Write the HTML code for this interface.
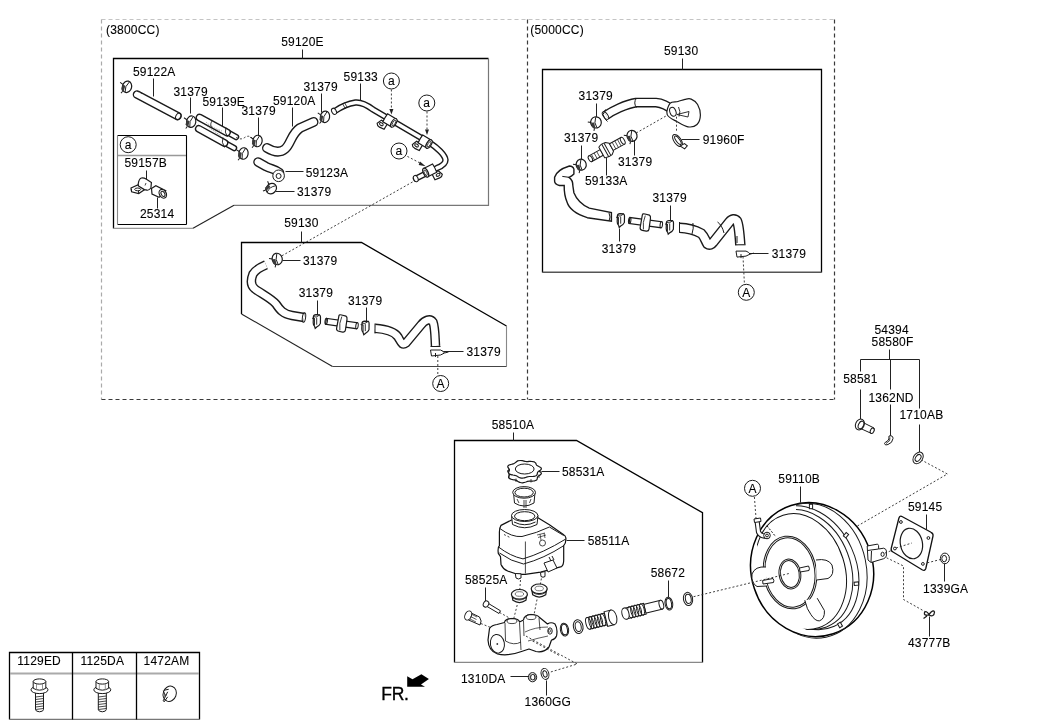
<!DOCTYPE html>
<html><head><meta charset="utf-8">
<style>
html,body{margin:0;padding:0;background:#fff;width:1063px;height:727px;overflow:hidden}
svg{display:block}
text{font-family:"Liberation Sans",sans-serif;font-size:12px;fill:#000;letter-spacing:0.2px;stroke:#000;stroke-width:0.1px}
.ln{stroke:#000;stroke-width:1.3;fill:none}
.th{stroke:#1a1a1a;stroke-width:1;fill:none}
.ld{stroke:#222;stroke-width:1;fill:none}
.dsh{stroke:#555;stroke-width:1;fill:none;stroke-dasharray:4 3}
.dshl{stroke:#aaa;stroke-width:1;fill:none;stroke-dasharray:4 3}
.dt{stroke:#2a2a2a;stroke-width:0.9;fill:none;stroke-dasharray:2 2}
.o{stroke:#1a1a1a;stroke-width:1;fill:#fff}
.tb{stroke:#1a1a1a;fill:none;stroke-linecap:round;stroke-linejoin:round}
.tw{stroke:#fff;fill:none;stroke-linecap:round;stroke-linejoin:round}
</style></head><body>
<svg style="will-change:transform" width="1063" height="727" viewBox="0 0 1063 727">
<!-- dashed outer boxes -->
<g id="dashed">
<path style="stroke:#c4c4c4;stroke-width:1.2;fill:none;stroke-dasharray:4 3" d="M101.5 19.5 H834.5"/>
<path style="stroke:#aaa;stroke-width:1.2;fill:none;stroke-dasharray:4 3" d="M101.5 19.5 V399.5"/>
<path style="stroke:#3a3a3a;stroke-width:1.2;fill:none;stroke-dasharray:4 3" d="M101.5 399.5 H834.5"/>
<path style="stroke:#3a3a3a;stroke-width:1.2;fill:none;stroke-dasharray:4 3" d="M834.5 19.5 V399.5"/>
<path style="stroke:#3a3a3a;stroke-width:1.2;fill:none;stroke-dasharray:4 3" d="M527.5 19.5 V399.5"/>
</g>
<!-- solid boxes -->
<g id="boxes">
<path class="ln" d="M113.5 228.5 V58.5 H488.5"/>
<path class="ln" style="stroke:#777;stroke-width:1.2" d="M488.5 58.5 V205.3 H234"/>
<path class="ln" style="stroke:#222;stroke-width:1.1" d="M234 205.3 L193 228.3"/>
<path class="ln" style="stroke:#999;stroke-width:1.2" d="M193 228.3 H113.5"/>
<path class="ln" style="stroke-width:1.1" d="M186.5 224.5 H117.5 M186.5 135.5 H117.5 M186.5 135.5 V224.5"/>
<path class="ln" style="stroke:#888;stroke-width:1.1" d="M117.5 135.5 V224.5"/>
<path class="ln" d="M118 155.5 H186" style="stroke:#999;stroke-width:1.6"/>
<path class="ln" d="M241.5 314 V242.5 H361.5 L506.5 326"/>
<path class="ln" style="stroke:#888;stroke-width:1.1" d="M506.5 326 V366.5"/>
<path class="ln" style="stroke:#444;stroke-width:1.2" d="M506.5 366.5 H332.5"/>
<path class="ln" style="stroke:#222;stroke-width:1.1" d="M332.5 366.5 L241.5 314"/>
<path class="ln" d="M542.5 272.5 V69.5 H821.5 V272.5"/>
<path class="ln" style="stroke:#555;stroke-width:1.4" d="M821.5 272.3 H542.5"/>
<path class="ln" d="M454.5 662.5 V440.5 H576.5 L702.5 512.7 V662.5"/>
<path class="ln" style="stroke:#888;stroke-width:1.2" d="M702.5 662.3 H454.5"/>
<path class="ln" d="M9.5 719.5 V652.5 H199.5 V719.5"/>
<path class="ln" style="stroke:#777;stroke-width:1.2" d="M199.5 719.3 H9.5"/>
<path class="ln" d="M10 673.5 H199" style="stroke:#aaa;stroke-width:2"/>
<path class="ln" d="M72.5 652.5 V719.5 M136.5 652.5 V719.5"/>
</g>
<!-- leaders -->
<g id="leaders" class="ld">
<path d="M302.5 49.5 V58.5"/>
<path d="M153.5 78.5 V96.5"/>
<path d="M190.5 97.5 V113.5"/>
<path d="M222.5 107.5 V127.5"/>
<path d="M258.5 117.5 V136.5"/>
<path d="M292.5 107.5 V126.5"/>
<path d="M321.5 93.5 V112.5"/>
<path d="M360.5 83.5 V100.5"/>
<path d="M146.5 170.5 V179.5"/>
<path d="M157.5 197.5 V208.5"/>
<path d="M285.5 171.5 H303.5"/>
<path d="M275.5 191.5 H294.5"/>
<path d="M301.5 231.5 V242.5"/>
<path d="M282.5 260.5 H300.5"/>
<path d="M317.5 300.5 V316.5"/>
<path d="M366.5 307.5 V322.5"/>
<path d="M442.5 351.5 H463.5"/>
<path d="M682.5 58.5 V69.5"/>
<path d="M596.5 103.5 V118.5"/>
<path d="M581.5 145.5 V160.5"/>
<path d="M634.5 138.5 V155.5"/>
<path d="M681.5 139.5 H699.5"/>
<path d="M606.5 157.5 V175.5"/>
<path d="M670.5 205.5 V220.5"/>
<path d="M619.5 228.5 V241.5"/>
<path d="M748.5 253.5 H768.5"/>
<path d="M889.5 349.5 V359.5 M860.5 359.5 H919.5 M860.5 359.5 V371.5 M860.5 389.5 V420.5 M890.5 359.5 V389.5 M890.5 404.5 V437.5 M919.5 359.5 V408.5 M919.5 424.5 V452.5"/>
<path d="M513.5 432.5 V440.5"/>
<path d="M541.5 471.5 H559.5"/>
<path d="M566.5 540.5 H584.5"/>
<path d="M485.5 587.5 V602.5"/>
<path d="M668.5 580.5 V597.5"/>
<path d="M800.5 486.5 V502.5"/>
<path d="M926.5 514.5 V529.5"/>
<path d="M944.5 563.5 V581.5"/>
<path d="M929.5 616.5 V636.5"/>
<path d="M510.5 676.5 H529.5"/>
<path d="M546.5 680.5 V695.5"/>
</g>
<!-- labels -->
<g id="labels">
<text x="106" y="33.8">(3800CC)</text>
<text x="281.2" y="45.5">59120E</text>
<text x="133" y="75.8">59122A</text>
<text x="173.4" y="95.7">31379</text>
<text x="202.5" y="105.5">59139E</text>
<text x="241.5" y="115">31379</text>
<text x="273" y="104.6">59120A</text>
<text x="303.5" y="90.5">31379</text>
<text x="343.6" y="80.5">59133</text>
<text x="124.5" y="167.3">59157B</text>
<text x="140" y="218.4">25314</text>
<text x="305.7" y="177.2">59123A</text>
<text x="297" y="195.6">31379</text>
<text x="284.2" y="227">59130</text>
<text x="303" y="265">31379</text>
<text x="298.7" y="297.3">31379</text>
<text x="348" y="304.5">31379</text>
<text x="466.4" y="356.2">31379</text>
<text x="530.3" y="33.6">(5000CC)</text>
<text x="664" y="55.2">59130</text>
<text x="578.6" y="100.3">31379</text>
<text x="564" y="142">31379</text>
<text x="618" y="166.2">31379</text>
<text x="702.7" y="144">91960F</text>
<text x="585" y="184.8">59133A</text>
<text x="652.5" y="201.7">31379</text>
<text x="601.7" y="253.4">31379</text>
<text x="771.7" y="257.5">31379</text>
<text x="874.5" y="333.8">54394</text>
<text x="871.6" y="345.5">58580F</text>
<text x="843.2" y="382.7">58581</text>
<text x="868.4" y="401.5">1362ND</text>
<text x="899.5" y="419.1">1710AB</text>
<text x="491.7" y="428.8">58510A</text>
<text x="561.9" y="475.9">58531A</text>
<text x="587.7" y="544.6">58511A</text>
<text x="465" y="583.7">58525A</text>
<text x="650.7" y="576.6">58672</text>
<text x="778.3" y="482.6">59110B</text>
<text x="907.9" y="510.6">59145</text>
<text x="923.1" y="592.8">1339GA</text>
<text x="907.9" y="647">43777B</text>
<text x="461" y="682.9">1310DA</text>
<text x="524.6" y="705.5">1360GG</text>
<text x="17.3" y="664.8">1129ED</text>
<text x="80.5" y="664.8">1125DA</text>
<text x="143.6" y="664.8">1472AM</text>
<text x="381.3" y="699.8" style="font-size:17.5px;letter-spacing:-0.3px;stroke-width:0.35px">FR.</text>
</g>
<!-- FR arrow -->
<path d="M407.2 676.2 L412.5 679.2 L421.4 674.2 L428.9 679 L421 684.4 L425 686.7 L407.2 686.7 Z" fill="#000"/>
<circle class="th" cx="128.2" cy="144.7" r="8"/><text x="128.2" y="148.79999999999998" text-anchor="middle">a</text>
<circle class="th" cx="391.4" cy="81" r="8"/><text x="391.4" y="85.1" text-anchor="middle">a</text>
<circle class="th" cx="426.8" cy="103" r="8"/><text x="426.8" y="107.1" text-anchor="middle">a</text>
<circle class="th" cx="399" cy="151" r="8"/><text x="399" y="155.1" text-anchor="middle">a</text>
<circle class="th" cx="440.7" cy="383.5" r="8"/><text x="440.7" y="387.8" text-anchor="middle">A</text>
<circle class="th" cx="746.3" cy="292.3" r="8"/><text x="746.3" y="296.6" text-anchor="middle">A</text>
<circle class="th" cx="752.5" cy="488.3" r="8"/><text x="752.5" y="492.6" text-anchor="middle">A</text>
<path class="tb" style="stroke-width:8.6;stroke-linecap:round" d="M137 94.5 L177.5 116"/>
<path class="tw" style="stroke-width:5.8;stroke-linecap:round" d="M137 94.5 L177.5 116"/>
<ellipse class="th" cx="178.3" cy="116.4" rx="2.4" ry="3.6" transform="rotate(28 178.3 116.4)"/>
<path class="dt" d="M137 91 L142 93.5"/>
<g transform="translate(127,86.8) rotate(15) scale(1,1)"><ellipse class="o" style="stroke-width:1.2" cx="0" cy="0" rx="4.6" ry="5.8"/><path class="th" style="stroke-width:0.9" d="M1 -5.2 Q-2.5 0 -0.5 5.5"/><path d="M-4.8 -1 L-1.8 -0.5 L-2 5 L-3.5 5.6 L-5 3.5 Z" fill="#3a3a3a"/><path class="th" d="M-7.8 -2.6 L-4.6 -1.2 M-3 5.4 L-4.2 7.6"/></g>
<g transform="translate(191.2,121.7) rotate(10) scale(1,1)"><ellipse class="o" style="stroke-width:1.2" cx="0" cy="0" rx="4.6" ry="5.8"/><path class="th" style="stroke-width:0.9" d="M1 -5.2 Q-2.5 0 -0.5 5.5"/><path d="M-4.8 -1 L-1.8 -0.5 L-2 5 L-3.5 5.6 L-5 3.5 Z" fill="#3a3a3a"/><path class="th" d="M-7.8 -2.6 L-4.6 -1.2 M-3 5.4 L-4.2 7.6"/></g>
<path class="tb" style="stroke-width:6.5;stroke-linecap:round" d="M227 132 L236 137"/>
<path class="tw" style="stroke-width:3.7;stroke-linecap:round" d="M227 132 L236 137"/>
<path class="tb" style="stroke-width:6.5;stroke-linecap:round" d="M224 142.5 L234 148"/>
<path class="tw" style="stroke-width:3.7;stroke-linecap:round" d="M224 142.5 L234 148"/>
<path class="tb" style="stroke-width:7.8;stroke-linecap:round" d="M199.5 117.5 L227 132.5"/>
<path class="tw" style="stroke-width:5.0;stroke-linecap:round" d="M199.5 117.5 L227 132.5"/>
<path class="tb" style="stroke-width:7.8;stroke-linecap:round" d="M198.8 128.8 L224.5 143"/>
<path class="tw" style="stroke-width:5.0;stroke-linecap:round" d="M198.8 128.8 L224.5 143"/>
<path class="th" d="M226 127.5 Q224 132 227.5 137 M223 137.5 Q221 142 224.5 147.5" style="stroke-width:0.9"/>
<path class="th" d="M206 122 Q212 128 222 131 M207 126 Q214 131 221 136" style="stroke:#777;stroke-width:0.7;stroke-dasharray:1.5 1"/>
<path class="th" d="M212 121 Q209 125 213 129" style="stroke-width:0.8"/>
<path class="dt" d="M236 137.5 Q241 140 244 138 Q249 134 253 139"/>
<g transform="translate(257.5,141) rotate(10) scale(1,1)"><ellipse class="o" style="stroke-width:1.2" cx="0" cy="0" rx="4.6" ry="5.8"/><path class="th" style="stroke-width:0.9" d="M1 -5.2 Q-2.5 0 -0.5 5.5"/><path d="M-4.8 -1 L-1.8 -0.5 L-2 5 L-3.5 5.6 L-5 3.5 Z" fill="#3a3a3a"/><path class="th" d="M-7.8 -2.6 L-4.6 -1.2 M-3 5.4 L-4.2 7.6"/></g>
<g transform="translate(243.5,153.5) rotate(10) scale(1,1)"><ellipse class="o" style="stroke-width:1.2" cx="0" cy="0" rx="4.6" ry="5.8"/><path class="th" style="stroke-width:0.9" d="M1 -5.2 Q-2.5 0 -0.5 5.5"/><path d="M-4.8 -1 L-1.8 -0.5 L-2 5 L-3.5 5.6 L-5 3.5 Z" fill="#3a3a3a"/><path class="th" d="M-7.8 -2.6 L-4.6 -1.2 M-3 5.4 L-4.2 7.6"/></g>
<path class="tb" style="stroke-width:10;stroke-linecap:round" d="M267 148 C272 151 279 154 285 149 C291 144 291 134 300 128 L313.5 122"/>
<path class="tw" style="stroke-width:7.2;stroke-linecap:round" d="M267 148 C272 151 279 154 285 149 C291 144 291 134 300 128 L313.5 122"/>
<path class="tb" style="stroke-width:9.5;stroke-linecap:round" d="M258 162 L266 166.5 C271 169 276 169.5 279.5 172.5"/>
<path class="tw" style="stroke-width:6.7;stroke-linecap:round" d="M258 162 L266 166.5 C271 169 276 169.5 279.5 172.5"/>
<circle class="o" cx="278.6" cy="175.8" r="5.8"/><circle class="th" cx="278.6" cy="176" r="2.5"/>
<g transform="translate(271.3,188.6) rotate(45) scale(1,1)"><ellipse class="o" style="stroke-width:1.2" cx="0" cy="0" rx="4.8" ry="5.6"/><path class="th" style="stroke-width:0.9" d="M1 -5.0 Q-2.5 0 -0.5 5.3"/><path d="M-4.8 -1 L-1.8 -0.5 L-2 5 L-3.5 5.6 L-5 3.5 Z" fill="#3a3a3a"/><path class="th" d="M-7.8 -2.6 L-4.6 -1.2 M-3 5.4 L-4.2 7.6"/></g>
<g transform="translate(325,116.8) rotate(10) scale(1,1)"><ellipse class="o" style="stroke-width:1.2" cx="0" cy="0" rx="4.6" ry="5.8"/><path class="th" style="stroke-width:0.9" d="M1 -5.2 Q-2.5 0 -0.5 5.5"/><path d="M-4.8 -1 L-1.8 -0.5 L-2 5 L-3.5 5.6 L-5 3.5 Z" fill="#3a3a3a"/><path class="th" d="M-7.8 -2.6 L-4.6 -1.2 M-3 5.4 L-4.2 7.6"/></g>
<path class="tb" style="stroke-width:6.4;stroke-linecap:round" d="M335 111 C340 107.5 347 103.8 355.5 102.5 C361 102 367 105 373 109.5 L430 143 C437 147.5 445 155 445.5 160 C445.5 164 441 166.5 437 168 L416 178.5"/>
<path class="tw" style="stroke-width:3.6000000000000005;stroke-linecap:round" d="M335 111 C340 107.5 347 103.8 355.5 102.5 C361 102 367 105 373 109.5 L430 143 C437 147.5 445 155 445.5 160 C445.5 164 441 166.5 437 168 L416 178.5"/>
<ellipse class="o" cx="334" cy="111.3" rx="2.2" ry="3.3" transform="rotate(-30 334 111.3)"/>
<path class="th" d="M342.5 103.5 L345.5 109 M344.5 102.5 L347.5 108" style="stroke-width:0.8"/>
<ellipse class="o" cx="415.8" cy="178.6" rx="2.2" ry="3.3" transform="rotate(-25 415.8 178.6)"/>
<g transform="translate(389.5,120.3) rotate(31) scale(1,1)"><path class="o" style="stroke-width:1.2" d="M-7 4 L-9 9 Q-8 11 -5 11 L0 10.5 L0 4 Z"/><ellipse class="th" cx="-5" cy="7.5" rx="2" ry="1.3"/><path class="o" style="stroke-width:1.2" d="M-5 -4.6 Q-5.5 -1 -5 4.6 L5 4.6 L5 -4.6 Z"/><ellipse class="o" style="stroke-width:1.2" cx="5" cy="0" rx="2.3" ry="4.8"/><ellipse class="th" cx="5.2" cy="0" rx="1.2" ry="3" style="stroke-width:0.8"/></g>
<g transform="translate(424.7,141.5) rotate(31) scale(1,1)"><path class="o" style="stroke-width:1.2" d="M-7 4 L-9 9 Q-8 11 -5 11 L0 10.5 L0 4 Z"/><ellipse class="th" cx="-5" cy="7.5" rx="2" ry="1.3"/><path class="o" style="stroke-width:1.2" d="M-5 -4.6 Q-5.5 -1 -5 4.6 L5 4.6 L5 -4.6 Z"/><ellipse class="o" style="stroke-width:1.2" cx="5" cy="0" rx="2.3" ry="4.8"/><ellipse class="th" cx="5.2" cy="0" rx="1.2" ry="3" style="stroke-width:0.8"/></g>
<g transform="translate(430.2,170.4) rotate(-27) scale(-1,1)"><path class="o" style="stroke-width:1.2" d="M-7 4 L-9 9 Q-8 11 -5 11 L0 10.5 L0 4 Z"/><ellipse class="th" cx="-5" cy="7.5" rx="2" ry="1.3"/><path class="o" style="stroke-width:1.2" d="M-5 -4.6 Q-5.5 -1 -5 4.6 L5 4.6 L5 -4.6 Z"/><ellipse class="o" style="stroke-width:1.2" cx="5" cy="0" rx="2.3" ry="4.8"/><ellipse class="th" cx="5.2" cy="0" rx="1.2" ry="3" style="stroke-width:0.8"/></g>
<path class="dt" d="M391.4 89.5 V111"/><path d="M389.4 109 L391.4 114.5 L393.4 109 Z" fill="#222"/>
<path class="dt" d="M427 111.5 V131.5"/><path d="M425 129.5 L427 135 L429 129.5 Z" fill="#222"/>
<path class="dt" d="M407.4 156.4 L421.5 163.8"/><path d="M420 161.5 L425.6 166.3 L418.7 165 Z" fill="#222"/>
<g><path class="o" style="stroke-width:1.2" d="M131 188 L137.7 185 L144.8 189.6 L138.7 193.5 L131.6 191.8 Z"/><path class="th" d="M131.6 191.8 L131.3 189 M138.7 193.5 L138.5 191"/><ellipse class="th" cx="137.7" cy="189.4" rx="3" ry="1.4"/><path class="o" style="stroke-width:1.2" d="M138.2 184 Q139 178.5 141.5 178 Q144 177.8 146.5 179.2 L151.4 182.5 L150.9 188 Q149 190.5 147 190.2 L144.3 189.6 L138.5 186 Z"/><path class="th" d="M146 183 L145 185.5" style="stroke-width:0.8"/><path class="o" style="stroke-width:1.2" d="M151.5 188.5 L155.8 185.8 L165.7 190.7 L159.1 197.3 L152 194 Z"/><ellipse class="o" style="stroke-width:1.2" cx="162.8" cy="193.8" rx="3.4" ry="4.6" transform="rotate(-30 162.8 193.8)"/><ellipse class="th" cx="163" cy="193.8" rx="1.7" ry="2.8" transform="rotate(-30 163 193.8)"/></g>
<path class="dt" d="M412.5 182 L280.8 256.4"/>
<g transform="translate(277.2,259) rotate(-15) scale(1,1)"><ellipse class="o" style="stroke-width:1.2" cx="0" cy="0" rx="5" ry="5.8"/><path class="th" style="stroke-width:0.9" d="M1 -5.2 Q-2.5 0 -0.5 5.5"/><path d="M-4.8 -1 L-1.8 -0.5 L-2 5 L-3.5 5.6 L-5 3.5 Z" fill="#3a3a3a"/><path class="th" d="M-7.8 -2.6 L-4.6 -1.2 M-3 5.4 L-4.2 7.6"/></g>
<path class="tb" style="stroke-width:9.5;stroke-linecap:butt" d="M266 264.8 C262 266.5 256 269 253 274 C251 279 250 285 255 289 C262 294 272 299 276 304 C280 310 283 314 292 315.5 L304 317.5"/>
<path class="tw" style="stroke-width:6.7;stroke-linecap:butt" d="M266 264.8 C262 266.5 256 269 253 274 C251 279 250 285 255 289 C262 294 272 299 276 304 C280 310 283 314 292 315.5 L304 317.5"/>
<ellipse class="th" cx="304" cy="317.5" rx="1.6" ry="4.8" transform="rotate(8 304 317.5)"/>
<g transform="translate(317,321.2) rotate(0)"><path class="o" style="stroke-width:1.2" d="M-3.6 -4.5 Q-3.4 -6.4 -1 -6.5 L2.6 -6.3 Q3.6 -5.6 3.5 -4 L3.4 2.2 Q2.6 4.2 0 5.6 L-1.8 7.2 L-2.4 5.2 Q-3.8 4 -3.8 1.5 Z"/><path class="th" style="stroke-width:0.9" d="M-2.5 -3 V4.5 M-0.3 -3.5 V3.5 M-3.6 -4.5 Q-1 -3 2.6 -6.2 M-5 -3 L-2.5 -2.6"/></g>
<g transform="translate(326,321.3) rotate(8.259437979878806)"><path class="o" style="stroke-width:1.2" d="M0 -3 L31.32491021535417 -3 L31.32491021535417 3 L0 3 Z"/><ellipse class="th" cx="0.2" cy="0" rx="1.2" ry="3"/><ellipse class="o" cx="31.32491021535417" cy="0" rx="1.2" ry="3"/><path class="o" style="stroke-width:1.2" d="M12 -7.5 Q12 -8.8 14.5 -8.5 L19 -8 Q20.5 -7.5 20.5 -5 L20.5 6 Q20.5 8.3 18 8.3 L14 8 Q11.5 7.8 11.5 5.5 Z"/><path class="th" style="stroke-width:0.8" d="M15 -7 Q13 0 15 7"/></g>
<g transform="translate(365.6,327.6) rotate(0)"><path class="o" style="stroke-width:1.2" d="M-3.6 -4.5 Q-3.4 -6.4 -1 -6.5 L2.6 -6.3 Q3.6 -5.6 3.5 -4 L3.4 2.2 Q2.6 4.2 0 5.6 L-1.8 7.2 L-2.4 5.2 Q-3.8 4 -3.8 1.5 Z"/><path class="th" style="stroke-width:0.9" d="M-2.5 -3 V4.5 M-0.3 -3.5 V3.5 M-3.6 -4.5 Q-1 -3 2.6 -6.2 M-5 -3 L-2.5 -2.6"/></g>
<path class="tb" style="stroke-width:9.5;stroke-linecap:butt" d="M375 328.3 C385 329 394 331 398 337 C401 342 402 346 406 343 L421 325 C425 320 430 318 433 322 C435 327 435 337 435.5 346"/>
<path class="tw" style="stroke-width:6.7;stroke-linecap:butt" d="M375 328.3 C385 329 394 331 398 337 C401 342 402 346 406 343 L421 325 C425 320 430 318 433 322 C435 327 435 337 435.5 346"/>
<path class="th" d="M375 323.5 V333.5 M430.5 346.5 H440.5"/>
<g transform="translate(436.5,353)"><path class="o" d="M-6 -3 L4 -3 Q7 -2 8 0 L4 2 L-5 3 Z"/><path class="th" d="M-1 0 L-1 4 M8 0 L12 -1"/></g>
<path class="dt" d="M437.8 356 V375.5"/>
<path class="tb" style="stroke-width:9.8;stroke-linecap:butt" d="M606 115.3 C612 111 626 104 636 102.6 L656 102.6 C662 103 668 106 674 111"/>
<path class="tw" style="stroke-width:7.000000000000001;stroke-linecap:butt" d="M606 115.3 C612 111 626 104 636 102.6 L656 102.6 C662 103 668 106 674 111"/>
<path class="th" d="M605.5 109.5 L603 114.5 Q604.5 119.5 607.5 121.5 M636.5 98 Q633 103 636.5 107.5"/>
<ellipse class="th" cx="605.5" cy="115.5" rx="2.2" ry="4.5" transform="rotate(-35 605.5 115.5)"/>
<path class="o" style="stroke-width:1.2" d="M670.0 103.3 C671.8 101.1 675.5 102.2 678.0 101.5 C680.5 100.8 682.8 99.7 685.0 99.3 C687.2 98.9 689.1 98.2 691.2 99.1 C693.3 100.0 696.1 101.8 697.6 104.5 C699.1 107.2 700.5 111.7 700.4 115.0 C700.3 118.3 699.1 122.5 697.0 124.5 C694.9 126.5 691.3 127.3 688.0 126.8 C684.7 126.3 680.6 123.7 677.1 121.7 C673.6 119.7 668.4 117.7 667.2 114.6 C666.0 111.5 668.2 105.5 670.0 103.3 Z"/>
<ellipse class="o" cx="672.9" cy="111.8" rx="3" ry="4.6" transform="rotate(-20 672.9 111.8)"/>
<path class="th" d="M678.5 107 Q681 111.5 679 116.5 M677 114.5 L689 111.5 L688 117 Z" style="stroke-width:0.9"/>
<g transform="translate(596,122.4) rotate(-15) scale(1,1)"><ellipse class="o" style="stroke-width:1.2" cx="0" cy="0" rx="5.3" ry="5.6"/><path class="th" style="stroke-width:0.9" d="M1 -5.0 Q-2.5 0 -0.5 5.3"/><path d="M-4.8 -1 L-1.8 -0.5 L-2 5 L-3.5 5.6 L-5 3.5 Z" fill="#3a3a3a"/><path class="th" d="M-7.8 -2.6 L-4.6 -1.2 M-3 5.4 L-4.2 7.6"/></g>
<g transform="translate(607,149.5) rotate(-29)"><path class="o" d="M-19 -3.2 L-6 -3.2 L-6 3.2 L-19 3.2 Z"/><ellipse class="o" cx="-19" cy="0" rx="1.8" ry="3.2"/><path class="th" d="M-16 -3.2 V3.2 M-13 -3.2 V3.2 M-10 -3.2 V3.2" style="stroke-width:0.7"/><path class="o" d="M-6 -6 Q-3 -8 2 -7 L5 -4.5 L5 4.5 L2 7 Q-3 8 -6 6 Z"/><path class="th" d="M-2 -7.2 V7.2 M0.5 -7 V7"/><path class="o" d="M5 -3.8 L18 -3.8 L18 3.8 L5 3.8 Z"/><ellipse class="o" cx="18" cy="0" rx="1.8" ry="3.8"/><path class="th" d="M8 -3.8 V3.8 M11 -3.8 V3.8 M14 -3.8 V3.8" style="stroke-width:0.7"/></g>
<g transform="translate(581.2,164.7) rotate(-15) scale(1,1)"><ellipse class="o" style="stroke-width:1.2" cx="0" cy="0" rx="5" ry="5.5"/><path class="th" style="stroke-width:0.9" d="M1 -4.9 Q-2.5 0 -0.5 5.2"/><path d="M-4.8 -1 L-1.8 -0.5 L-2 5 L-3.5 5.6 L-5 3.5 Z" fill="#3a3a3a"/><path class="th" d="M-7.8 -2.6 L-4.6 -1.2 M-3 5.4 L-4.2 7.6"/></g>
<g transform="translate(632,135.8) rotate(-15) scale(1,1)"><ellipse class="o" style="stroke-width:1.2" cx="0" cy="0" rx="5" ry="5.5"/><path class="th" style="stroke-width:0.9" d="M1 -4.9 Q-2.5 0 -0.5 5.2"/><path d="M-4.8 -1 L-1.8 -0.5 L-2 5 L-3.5 5.6 L-5 3.5 Z" fill="#3a3a3a"/><path class="th" d="M-7.8 -2.6 L-4.6 -1.2 M-3 5.4 L-4.2 7.6"/></g>
<g transform="translate(677.5,140.5) rotate(-35)"><ellipse class="o" cx="0" cy="0" rx="3.5" ry="7"/><ellipse class="th" cx="0.5" cy="0" rx="1.8" ry="5"/><path class="o" d="M-1 6 L4 6.5 L5 10 L1 11 Z"/></g>
<path class="dt" d="M636.2 133 L667.2 115.3"/><path class="dt" d="M676.5 116.7 V132.3"/>
<path class="o" style="stroke-width:1.4" d="M554.6 177.3 C556 172 563 168 569.4 166 Q573 166 573.9 169.1 L573.9 174 Q572 176 569 177.3 Q573 180 572.9 186 L573.9 192.7 Q578 203 589.3 208.1 L611.4 212.5 L611.4 221.1 L587.3 217.7 Q570 212 567.1 202.3 Q564 195 564.2 185.5 L559.4 185.5 Q554.6 184 554.6 181.2 Z"/>
<path class="th" d="M562.3 176.4 L569 177.3 M609 213 Q611 217 609 221"/>
<g transform="translate(621,220.2) rotate(0)"><path class="o" style="stroke-width:1.2" d="M-3.6 -4.5 Q-3.4 -6.4 -1 -6.5 L2.6 -6.3 Q3.6 -5.6 3.5 -4 L3.4 2.2 Q2.6 4.2 0 5.6 L-1.8 7.2 L-2.4 5.2 Q-3.8 4 -3.8 1.5 Z"/><path class="th" style="stroke-width:0.9" d="M-2.5 -3 V4.5 M-0.3 -3.5 V3.5 M-3.6 -4.5 Q-1 -3 2.6 -6.2 M-5 -3 L-2.5 -2.6"/></g>
<g transform="translate(629.5,220.5) rotate(7.70083394214681)"><path class="o" style="stroke-width:1.2" d="M0 -3 L32.089406351629464 -3 L32.089406351629464 3 L0 3 Z"/><ellipse class="th" cx="0.2" cy="0" rx="1.2" ry="3"/><ellipse class="o" cx="32.089406351629464" cy="0" rx="1.2" ry="3"/><path class="o" style="stroke-width:1.2" d="M12 -7.5 Q12 -8.8 14.5 -8.5 L19 -8 Q20.5 -7.5 20.5 -5 L20.5 6 Q20.5 8.3 18 8.3 L14 8 Q11.5 7.8 11.5 5.5 Z"/><path class="th" style="stroke-width:0.8" d="M15 -7 Q13 0 15 7"/></g>
<g transform="translate(670,227) rotate(0)"><path class="o" style="stroke-width:1.2" d="M-3.6 -4.5 Q-3.4 -6.4 -1 -6.5 L2.6 -6.3 Q3.6 -5.6 3.5 -4 L3.4 2.2 Q2.6 4.2 0 5.6 L-1.8 7.2 L-2.4 5.2 Q-3.8 4 -3.8 1.5 Z"/><path class="th" style="stroke-width:0.9" d="M-2.5 -3 V4.5 M-0.3 -3.5 V3.5 M-3.6 -4.5 Q-1 -3 2.6 -6.2 M-5 -3 L-2.5 -2.6"/></g>
<path class="tb" style="stroke-width:10.5;stroke-linecap:butt" d="M679.5 227.8 C686 228 693 229 701.3 233.5 C704.5 236.5 705.5 241 707.5 244 C709.5 245.5 711.5 244.5 713 242.5 L729.3 222 C732 218.5 735 218.5 737 221 C739 225 739.4 231 740.3 244.8"/>
<path class="tw" style="stroke-width:7.7;stroke-linecap:butt" d="M679.5 227.8 C686 228 693 229 701.3 233.5 C704.5 236.5 705.5 241 707.5 244 C709.5 245.5 711.5 244.5 713 242.5 L729.3 222 C732 218.5 735 218.5 737 221 C739 225 739.4 231 740.3 244.8"/>
<path class="th" d="M679.5 222 V232.8 M692.9 223 Q694 228 692 234 M717.5 222 Q722 225 724 233 M735 244.8 H745.6 M737 236 V243"/>
<g transform="translate(742,254.1)"><path class="o" d="M-6 -3 L4 -3 Q7 -2 8 0 L4 2 L-5 3 Z"/><path class="th" d="M-1 0 L-1 4 M8 0 L12 -1"/></g>
<path class="dt" d="M743 256.5 L744.4 283.5"/>
<defs><clipPath id="rclip"><rect x="796" y="495" width="90" height="145"/></clipPath></defs>
<ellipse style="fill:#fff;stroke:#000;stroke-width:1.5" cx="812.1" cy="569.6" rx="60.8" ry="67.5" transform="rotate(-18.2 812.1 569.6)"/>
<g clip-path="url(#rclip)"><ellipse class="th" cx="812" cy="570.7" rx="54.4" ry="67.9" transform="rotate(-11.9 812 570.7)"/><ellipse class="th" cx="807.7" cy="567.7" rx="48" ry="64.3" transform="rotate(-24.4 807.7 567.7)"/><ellipse class="th" cx="804.5" cy="569.5" rx="46" ry="61.5" transform="rotate(-21 804.5 569.5)"/></g>
<defs><clipPath id="fclip"><path d="M767 490 H900 V645 H800 L767 600 Z"/></clipPath></defs>
<ellipse style="fill:#fff;stroke:none" cx="800.8" cy="571.5" rx="44.1" ry="59" transform="rotate(-17.5 800.8 571.5)"/>
<ellipse clip-path="url(#fclip)" style="fill:none;stroke:#111;stroke-width:1" cx="800.8" cy="571.5" rx="44.1" ry="59" transform="rotate(-17.5 800.8 571.5)"/>
<path class="th" d="M767 525.8 L775.8 536.8" style="stroke-dasharray:2 1.5"/>
<ellipse class="th" cx="790" cy="572.5" rx="26.5" ry="36.5" transform="rotate(-8 790 572.5)"/>
<ellipse class="th" cx="790" cy="572.5" rx="24.8" ry="34.8" transform="rotate(-8 790 572.5)"/>
<path class="o" d="M766 567 Q755 566 752 574 Q751 583 757 586.5 L767 586"/>
<path class="o" d="M816 560 Q828 558 832 565 Q835 575 828 578.5 L816.5 580"/>
<path class="o" d="M804.8 600.2 Q807 610 811 614.7 Q815 621 819.3 620.9 Q825 619 824.4 610.5 L817.2 598.2"/>
<ellipse class="o" cx="789.9" cy="574" rx="10.8" ry="15" transform="rotate(-10 789.9 574)"/>
<ellipse class="th" cx="789.9" cy="574" rx="9.3" ry="13.5" transform="rotate(-10 789.9 574)"/>
<path class="o" d="M799.5 568 L808.5 566 Q810 568.5 809 570.5 L800 572 Z"/>
<path class="o" d="M762.6 580.5 L773 578.5 Q774.5 580.5 773.5 582.5 L763 584 Z"/>
<rect class="o" x="809.4" y="504.3" width="3.2" height="4.4" transform="rotate(0 811 506.5)"/>
<rect class="o" x="844.4" y="533.0" width="3.2" height="4.4" transform="rotate(40 846 535.2)"/>
<rect class="o" x="854.8" y="581.5" width="3.2" height="4.4" transform="rotate(85 856.4 583.7)"/>
<rect class="o" x="838.4" y="622.8" width="3.2" height="4.4" transform="rotate(150 840 625)"/>
<path class="tb" style="stroke-width:5.2" d="M757 520.5 L758.5 532 Q760 536 766.5 536.5"/>
<path class="tw" style="stroke-width:3" d="M757 520.5 L758.5 532 Q760 536 766.5 536.5"/>
<path class="o" d="M754 519 L760.5 518 L761 521.5 L754.5 522.5 Z"/>
<circle class="o" cx="767" cy="535.5" r="3.3"/><circle class="th" cx="767" cy="535.5" r="1.4"/>
<path class="o" d="M867.2 546 L877.6 544.1 Q879 544.5 878.7 549 L883.7 548.2 Q886.4 549 886.4 551 L886.4 555.9 Q885.5 558 883.7 558.7 L871 562.5 L868 560 Z"/>
<path class="th" d="M867.5 550.5 L878.5 549 M871.5 551 L871 562"/>
<ellipse class="th" cx="882.6" cy="554.3" rx="1.6" ry="2.1"/>
<path class="dt" d="M693.6 596.7 L789.4 573.4"/>
<path class="dt" d="M857.4 526 L947.4 474 L921.8 460.2"/>
<path class="dt" d="M886.6 557.8 L903.5 566 L903.5 599.5 L924.8 611.5"/>
<path class="dt" d="M885 553 L911.9 543"/>
<path class="dt" d="M927.3 562.8 L940.5 559.5"/>
<path style="fill:#fff;stroke:#111;stroke-width:1.3;stroke-linejoin:round" d="M901.5 516.3 Q899.5 515.5 898.8 518.5 L891.2 548.5 Q890.8 551 893 552 L922.5 570 Q925 571 925.8 568.5 L933 536 Q933.5 533.5 931 532.3 Z"/>
<ellipse class="th" style="stroke-width:1.2" cx="911.4" cy="543.5" rx="11" ry="15.4" transform="rotate(-12 911.4 543.5)"/>
<circle class="th" cx="900.9" cy="522" r="1.4"/>
<circle class="th" cx="928.4" cy="538" r="1.4"/>
<circle class="th" cx="922.9" cy="563.9" r="1.4"/>
<circle class="th" cx="894.9" cy="548.5" r="1.4"/>
<path class="dt" d="M896 548 L911.9 543"/>
<ellipse class="o" cx="944.9" cy="558.4" rx="4.5" ry="5.3"/><ellipse class="th" cx="944.2" cy="558.6" rx="2.4" ry="3.2"/>
<path class="th" style="stroke-width:1.3" d="M929 614.5 Q926 610 924.5 612.5 Q923.5 616 929 615 Q934 617.5 934.5 612 Q933 609 929 614.5 M927 616 L923.5 618.5"/>
<path class="o" d="M861 421.5 L874 428 Q875 431.5 871.5 433.5 L859.5 428 Z"/>
<ellipse class="o" cx="859.9" cy="424.5" rx="4.3" ry="5.6" transform="rotate(25 859.9 424.5)"/>
<ellipse class="th" cx="861" cy="425" rx="2.5" ry="4" transform="rotate(25 861 425)"/>
<ellipse class="o" cx="872.2" cy="430.8" rx="1.8" ry="2.8" transform="rotate(25 872.2 430.8)"/>
<path class="o" d="M889 436 Q893 435 893 438.5 Q892.5 443 888 444.5 Q885 446 884.5 443.5 Q885 442 887.5 441 Q889.5 439.5 889 436 Z"/>
<path class="th" d="M890 437.5 Q891 441 886 443.5" style="stroke-width:0.8"/>
<ellipse class="o" cx="918.1" cy="457.9" rx="4.5" ry="6.3" transform="rotate(35 918.1 457.9)"/>
<ellipse class="th" cx="918.1" cy="457.9" rx="2.4" ry="3.8" transform="rotate(35 918.1 457.9)"/>
<path class="dt" d="M754.4 497 L756 518"/>
<path class="o" style="stroke-width:1.2" d="M541.2 473.8 C541.1 474.1 540.7 474.5 540.4 474.8 C540.0 475.1 539.5 475.3 539.1 475.6 C538.7 475.9 538.3 476.1 538.0 476.4 C537.8 476.6 537.6 476.9 537.5 477.2 C537.4 477.5 537.4 477.8 537.3 478.2 C537.3 478.5 537.3 478.9 537.1 479.2 C536.9 479.6 536.7 479.9 536.3 480.2 C535.9 480.4 535.4 480.7 534.8 480.8 C534.2 481.0 533.5 481.0 532.8 481.1 C532.1 481.1 531.4 481.1 530.8 481.1 C530.1 481.1 529.5 481.1 529.0 481.1 C528.4 481.2 527.9 481.3 527.4 481.4 C526.9 481.6 526.4 481.8 525.9 482.0 C525.3 482.1 524.7 482.4 524.1 482.5 C523.5 482.6 522.8 482.8 522.2 482.8 C521.5 482.8 520.9 482.7 520.3 482.5 C519.7 482.4 519.2 482.1 518.7 481.9 C518.2 481.7 517.8 481.3 517.4 481.1 C517.0 480.8 516.7 480.6 516.3 480.4 C515.8 480.2 515.4 480.1 514.8 479.9 C514.3 479.8 513.7 479.7 513.0 479.6 C512.4 479.5 511.7 479.4 511.1 479.2 C510.5 479.1 509.9 478.9 509.5 478.6 C509.1 478.3 508.8 478.0 508.7 477.7 C508.5 477.4 508.6 477.0 508.7 476.6 C508.7 476.3 509.0 475.9 509.1 475.6 C509.2 475.3 509.4 475.0 509.4 474.7 C509.5 474.4 509.4 474.1 509.2 473.8 C509.1 473.5 508.8 473.2 508.6 472.9 C508.3 472.6 508.0 472.2 507.9 471.9 C507.8 471.5 507.7 471.1 507.8 470.8 C507.9 470.5 508.3 470.2 508.7 469.9 C509.1 469.6 509.7 469.4 510.2 469.2 C510.8 469.0 511.5 468.9 512.1 468.8 C512.6 468.6 513.2 468.5 513.7 468.3 C514.1 468.1 514.5 467.9 514.8 467.7 C515.2 467.4 515.4 467.1 515.8 466.8 C516.1 466.6 516.5 466.2 516.9 466.0 C517.3 465.7 517.8 465.4 518.4 465.3 C519.0 465.1 519.6 465.1 520.3 465.1 C520.9 465.1 521.6 465.2 522.3 465.3 C522.9 465.4 523.5 465.6 524.1 465.7 C524.7 465.8 525.2 466.0 525.8 466.1 C526.3 466.1 526.8 466.2 527.4 466.2 C528.0 466.2 528.6 466.1 529.3 466.0 C529.9 466.0 530.6 465.9 531.3 466.0 C532.0 466.0 532.7 466.0 533.3 466.2 C533.9 466.3 534.4 466.5 534.8 466.8 C535.2 467.0 535.5 467.4 535.7 467.7 C535.9 468.1 536.0 468.4 536.1 468.8 C536.3 469.1 536.4 469.4 536.6 469.7 C536.8 469.9 537.1 470.2 537.5 470.4 C537.9 470.6 538.4 470.8 538.9 471.1 C539.3 471.3 539.9 471.6 540.3 471.9 C540.7 472.1 541.1 472.5 541.2 472.8 C541.4 473.1 541.4 473.5 541.2 473.8 Z"/>
<path class="o" style="stroke-width:1.2" d="M541.2 469.2 C541.1 469.5 540.7 469.9 540.4 470.2 C540.0 470.5 539.5 470.7 539.1 471.0 C538.7 471.3 538.3 471.5 538.0 471.8 C537.8 472.0 537.6 472.3 537.5 472.6 C537.4 472.9 537.4 473.2 537.3 473.6 C537.3 473.9 537.3 474.3 537.1 474.6 C536.9 475.0 536.7 475.3 536.3 475.6 C535.9 475.8 535.4 476.1 534.8 476.2 C534.2 476.4 533.5 476.4 532.8 476.5 C532.1 476.5 531.4 476.5 530.8 476.5 C530.1 476.5 529.5 476.5 529.0 476.5 C528.4 476.6 527.9 476.7 527.4 476.8 C526.9 477.0 526.4 477.2 525.9 477.4 C525.3 477.5 524.7 477.8 524.1 477.9 C523.5 478.0 522.8 478.2 522.2 478.2 C521.5 478.2 520.9 478.1 520.3 477.9 C519.7 477.8 519.2 477.5 518.7 477.3 C518.2 477.1 517.8 476.7 517.4 476.5 C517.0 476.2 516.7 476.0 516.3 475.8 C515.8 475.6 515.4 475.5 514.8 475.3 C514.3 475.2 513.7 475.1 513.0 475.0 C512.4 474.9 511.7 474.8 511.1 474.6 C510.5 474.5 509.9 474.3 509.5 474.0 C509.1 473.7 508.8 473.4 508.7 473.1 C508.5 472.8 508.6 472.4 508.7 472.0 C508.7 471.7 509.0 471.3 509.1 471.0 C509.2 470.7 509.4 470.4 509.4 470.1 C509.5 469.8 509.4 469.5 509.2 469.2 C509.1 468.9 508.8 468.6 508.6 468.3 C508.3 468.0 508.0 467.6 507.9 467.3 C507.8 466.9 507.7 466.5 507.8 466.2 C507.9 465.9 508.3 465.6 508.7 465.3 C509.1 465.0 509.7 464.8 510.2 464.6 C510.8 464.4 511.5 464.3 512.1 464.2 C512.6 464.0 513.2 463.9 513.7 463.7 C514.1 463.5 514.5 463.3 514.8 463.1 C515.2 462.8 515.4 462.5 515.8 462.2 C516.1 462.0 516.5 461.6 516.9 461.4 C517.3 461.1 517.8 460.8 518.4 460.7 C519.0 460.5 519.6 460.5 520.3 460.5 C520.9 460.5 521.6 460.6 522.3 460.7 C522.9 460.8 523.5 461.0 524.1 461.1 C524.7 461.2 525.2 461.4 525.8 461.5 C526.3 461.5 526.8 461.6 527.4 461.6 C528.0 461.6 528.6 461.5 529.3 461.4 C529.9 461.4 530.6 461.3 531.3 461.4 C532.0 461.4 532.7 461.4 533.3 461.6 C533.9 461.7 534.4 461.9 534.8 462.2 C535.2 462.4 535.5 462.8 535.7 463.1 C535.9 463.5 536.0 463.8 536.1 464.2 C536.3 464.5 536.4 464.8 536.6 465.1 C536.8 465.3 537.1 465.6 537.5 465.8 C537.9 466.0 538.4 466.2 538.9 466.5 C539.3 466.7 539.9 467.0 540.3 467.3 C540.7 467.5 541.1 467.9 541.2 468.2 C541.4 468.5 541.4 468.9 541.2 469.2 Z"/>
<path class="th" d="M509 474 V478 M516 478.5 V482 M531 479 V482.5 M539 474.5 V478" style="stroke-width:0.8"/>
<ellipse class="th" cx="524.7" cy="469" rx="9.4" ry="5"/>
<path class="o" d="M513.5 492.5 L514.5 503 Q524 509 534 503 L535 492.5 Z"/>
<ellipse class="o" cx="524.1" cy="492.4" rx="11.4" ry="5.8"/>
<ellipse class="th" cx="524.1" cy="492.6" rx="9.2" ry="4.4"/>
<path class="th" d="M524 500 V508 M526 500 V508 M517 499 L519 503 M531 499 L529.5 503" style="stroke-width:0.8"/>
<path style="fill:#fff;stroke:#111;stroke-width:1.2;stroke-linejoin:round" d="M511.5 520 L501 525.4 Q499.4 528 499.4 532 L499.4 545.7 Q497.5 547 498.3 553.4 L500.5 556.7 L501 564.4 Q503 569 507.6 571 Q516 575 525.2 574.3 L540.6 572.1 L561.5 566.6 Q563.7 565 563.7 560 L563.7 545.7 Q566.2 543 565.9 538 Q565.5 535.5 563.7 534.7 L549.4 524.8 L537.5 517.5 Z"/>
<path class="th" d="M499.8 528.5 Q512 537.5 522 536.5 Q537 533 549.4 527 M549.4 527 L563.7 535.5"/>
<path class="th" d="M498.5 547 Q510 556 523 558.9 Q543 553 565.8 539 M499.5 553 Q511 561.5 523.5 564 Q544 558.5 564 545.5"/>
<path class="th" d="M525.4 541.5 V573.5" style="stroke-width:0.8"/>
<path class="o" d="M511.5 515.5 L512.5 524.5 Q524.7 531 537 524.5 L538 515.5 Z"/>
<ellipse class="o" cx="524.7" cy="515.5" rx="13.2" ry="6"/>
<ellipse class="th" cx="524.7" cy="516.2" rx="10.2" ry="4.5"/>
<path class="th" d="M514 522 Q524.7 527.5 535.5 522"/>
<path class="th" d="M537 535 L545 533 M538 537.5 L546 535 M540 534 L541 540 M544 533 L545 538" style="stroke-width:0.7"/><circle class="th" cx="542.5" cy="543" r="3" style="stroke-width:0.8"/>
<path class="dt" d="M504 534.5 L510 537.5"/>
<path class="o" d="M544 563 L553 560 L557 568 L548 572 Z"/><path class="th" d="M549 557 L551 561 M552 556 L554 560"/>
<path class="o" d="M515.3 573.5 L516 578 Q518.5 580 521 578 L521 573.8 Z"/><path class="o" d="M540.5 572.5 L541 576.5 Q543 578 545 576.5 L545 571.5 Z"/>
<path class="dt" d="M520.5 580 L519.8 589.5 M541.4 578.5 L540.3 584.4"/>
<path class="o" style="stroke-width:1.2" d="M511.9 594.8 L512.9 600.3 Q519.4 604.8 525.9 600.3 L526.9 594.8 Z"/>
<path class="th" d="M512.6 597.8 Q519.4 602.3 526.1999999999999 597.8" style="stroke-width:0.8"/>
<ellipse class="o" style="stroke-width:1.2" cx="519.4" cy="594.3" rx="8" ry="4.8"/><ellipse class="th" cx="519.4" cy="594.0" rx="4.2" ry="2.3" style="stroke-width:0.8;stroke:#555"/>
<path class="o" style="stroke-width:1.2" d="M531.7 589.3 L532.7 594.8 Q539.2 599.3 545.7 594.8 L546.7 589.3 Z"/>
<path class="th" d="M532.4000000000001 592.3 Q539.2 596.8 546.0 592.3" style="stroke-width:0.8"/>
<ellipse class="o" style="stroke-width:1.2" cx="539.2" cy="588.8" rx="8" ry="4.8"/><ellipse class="th" cx="539.2" cy="588.5" rx="4.2" ry="2.3" style="stroke-width:0.8;stroke:#555"/>
<path class="dt" d="M517.2 605 L513.9 618 M537 599.5 L533.7 616.3"/>
<path class="o" d="M486 602 L500.5 610.8 L499 613.5 L484.5 605 Z"/>
<ellipse class="o" cx="486" cy="604" rx="2.6" ry="3.2" transform="rotate(30 486 604)"/>
<path class="dt" d="M499.6 612.5 L518.3 622.9"/>
<path class="o" d="M468 611.5 L479.5 617 Q482.5 621 480 625 L468.5 620 Z"/>
<ellipse class="o" cx="468.2" cy="615.5" rx="3.2" ry="4.8" transform="rotate(25 468.2 615.5)"/>
<path class="th" d="M471 614 L477 617 M470.5 616.5 L476.5 619.5 M470 619 L476 622" style="stroke-width:0.7"/>
<path class="dt" d="M480.9 623.5 L500.7 631.7"/>
<path style="fill:#fff;stroke:#111;stroke-width:1.2;stroke-linejoin:round" d="M489.5 628.5 Q492 625 497 624.5 L504.5 622.5 Q505 619 512 618.5 Q519 618.5 519.5 622 L523.5 620 Q524 615 531 614.5 Q537 614.5 539 617 L547.5 624 Q551 621.5 555 624 Q558 629 556.5 636 Q555 639.5 551.5 640 L549 647 Q544 653 536 651.5 L529 649 L521.5 651.5 Q508 656.5 497.5 654 Q488.5 651 488 640 Z"/>
<ellipse class="th" cx="497.4" cy="643.8" rx="7" ry="9.4" transform="rotate(-10 497.4 643.8)"/>
<circle cx="497.3" cy="644" r="0.9" fill="#333"/>
<path class="th" d="M505 623 L505.5 641 M519.5 622.5 L521 650 M523.5 621 L524 636 M539 618 L540 630 M505.5 641 Q514 646 521 642" style="stroke-width:0.8"/>
<ellipse class="th" cx="512" cy="621" rx="5" ry="2.6" style="stroke-width:0.8"/><ellipse class="th" cx="531" cy="617" rx="5" ry="2.6" style="stroke-width:0.8"/>
<ellipse class="th" cx="550" cy="631" rx="2.2" ry="3.2"/><ellipse class="th" cx="549.5" cy="630.8" rx="1" ry="1.5" style="stroke-width:0.7"/>
<path class="th" d="M525 632 Q535 627 548 627 M528 641 Q538 638 548 636" style="stroke-width:0.7"/>
<path class="dt" d="M526 636.1 L577.3 664 L548.3 672.7"/>
<path class="dt" d="M532.5 641 L560 655.9"/>
<ellipse class="o" cx="564.5" cy="629.6" rx="4.1" ry="6.5" transform="rotate(-10 564.5 629.6)"/><ellipse class="th" cx="564.5" cy="629.6" rx="2.9" ry="5.3" transform="rotate(-10 564.5 629.6)"/>
<ellipse class="o" cx="578.2" cy="626.6" rx="4.8" ry="7" transform="rotate(-10 578.2 626.6)"/><ellipse class="th" cx="578.2" cy="626.6" rx="3" ry="5" transform="rotate(-10 578.2 626.6)"/>
<g transform="rotate(-14 602 620)"><path class="o" d="M588 614 L606 614 L606 626 L588 626 Z"/><ellipse class="o" cx="588" cy="620" rx="2.5" ry="6"/><ellipse class="th" cx="591" cy="620" rx="2.2" ry="6.3" style="stroke-width:0.9"/><ellipse class="th" cx="594" cy="620" rx="2.2" ry="6.3" style="stroke-width:0.9"/><ellipse class="th" cx="597" cy="620" rx="2.2" ry="6.3" style="stroke-width:0.9"/><ellipse class="th" cx="600" cy="620" rx="2.2" ry="6.3" style="stroke-width:0.9"/><ellipse class="th" cx="603" cy="620" rx="2.2" ry="6.3" style="stroke-width:0.9"/><path class="o" d="M606 612.5 L613 612.5 L613 627.5 L606 627.5 Z"/><ellipse class="o" cx="613" cy="620" rx="4" ry="7.5"/></g>
<g transform="rotate(-14 640 610)"><path class="o" d="M645 605.5 L662 605.5 L662 614.5 L645 614.5 Z"/><ellipse class="o" cx="662" cy="610" rx="2.2" ry="4.5"/><path class="o" d="M625 604.5 L645 604.5 L645 615.5 L625 615.5 Z"/><ellipse class="th" cx="630" cy="610" rx="2.2" ry="6" style="stroke-width:0.9"/><ellipse class="th" cx="633" cy="610" rx="2.2" ry="6" style="stroke-width:0.9"/><ellipse class="th" cx="636" cy="610" rx="2.2" ry="6" style="stroke-width:0.9"/><ellipse class="th" cx="639" cy="610" rx="2.2" ry="6" style="stroke-width:0.9"/><ellipse class="th" cx="642" cy="610" rx="2.2" ry="6" style="stroke-width:0.9"/><ellipse class="o" cx="625" cy="610" rx="3.5" ry="5.8"/></g>
<ellipse class="o" cx="668.9" cy="603.6" rx="3.8" ry="6.5" transform="rotate(-10 668.9 603.6)"/><ellipse class="th" cx="668.9" cy="603.6" rx="2.6" ry="5.2" transform="rotate(-10 668.9 603.6)"/>
<ellipse class="o" cx="688" cy="598.9" rx="4.6" ry="6.6" transform="rotate(-10 688 598.9)"/><ellipse class="th" cx="688.3" cy="598.9" rx="2.9" ry="4.6" transform="rotate(-10 688 598.9)"/>
<ellipse class="o" cx="532.5" cy="677.2" rx="4.2" ry="4.6"/><ellipse class="th" cx="532.8" cy="677.2" rx="2.2" ry="2.8"/><path class="th" d="M530 673.5 V681 M535 673.5 V681" style="stroke-width:0.7"/>
<ellipse class="o" cx="545" cy="673.9" rx="3.8" ry="5.6" transform="rotate(-15 545 673.9)"/><ellipse class="th" cx="545" cy="673.9" rx="2" ry="3.3" transform="rotate(-15 545 673.9)"/>
<g transform="translate(39.5,0)"><path class="o" d="M-4 693 L-4 709.5 Q-4 711.5 0 711.8 Q4 711.5 4 709.5 L4 693 Z"/><path class="th" d="M-4 697 L4 696" style="stroke-width:0.8"/><path class="th" d="M-4 699.5 L4 698.5" style="stroke-width:0.8"/><path class="th" d="M-4 702 L4 701" style="stroke-width:0.8"/><path class="th" d="M-4 704.5 L4 703.5" style="stroke-width:0.8"/><path class="th" d="M-4 707 L4 706" style="stroke-width:0.8"/><path class="th" d="M-4 709.5 L4 708.5" style="stroke-width:0.8"/><ellipse class="o" cx="0" cy="689.8" rx="8.5" ry="3.8"/><path class="o" d="M-6.3 681.5 L-6.3 688.3 Q0 692 6.3 688.3 L6.3 681.5 Z"/><ellipse class="o" cx="0" cy="681.5" rx="6.3" ry="2.6"/><path class="th" d="M-3 683.5 V690 M3 683.5 V690" style="stroke-width:0.8;stroke:#777"/></g>
<g transform="translate(102.3,0)"><path class="o" d="M-4 693 L-4 709.5 Q-4 711.5 0 711.8 Q4 711.5 4 709.5 L4 693 Z"/><path class="th" d="M-4 697 L4 696" style="stroke-width:0.8"/><path class="th" d="M-4 699.5 L4 698.5" style="stroke-width:0.8"/><path class="th" d="M-4 702 L4 701" style="stroke-width:0.8"/><path class="th" d="M-4 704.5 L4 703.5" style="stroke-width:0.8"/><path class="th" d="M-4 707 L4 706" style="stroke-width:0.8"/><path class="th" d="M-4 709.5 L4 708.5" style="stroke-width:0.8"/><ellipse class="o" cx="0" cy="689.8" rx="8.5" ry="3.8"/><path class="o" d="M-6.3 681.5 L-6.3 688.3 Q0 692 6.3 688.3 L6.3 681.5 Z"/><ellipse class="o" cx="0" cy="681.5" rx="6.3" ry="2.6"/><path class="th" d="M-3 683.5 V690 M3 683.5 V690" style="stroke-width:0.8;stroke:#777"/></g>
<g transform="translate(169.7,693.8)"><ellipse class="th" cx="0" cy="0" rx="6.5" ry="7.8" transform="rotate(20)"/><path class="th" d="M-6.5 -3 L-4 2 L-2 -2 M-3.5 1 L-6.5 7 L-5.5 8 L-2 3 M-6 -3.5 L-1 -4.5"/><path d="M-6 -2 L-4 2 L-5 5 Z" fill="#555"/></g></svg>
</body></html>
